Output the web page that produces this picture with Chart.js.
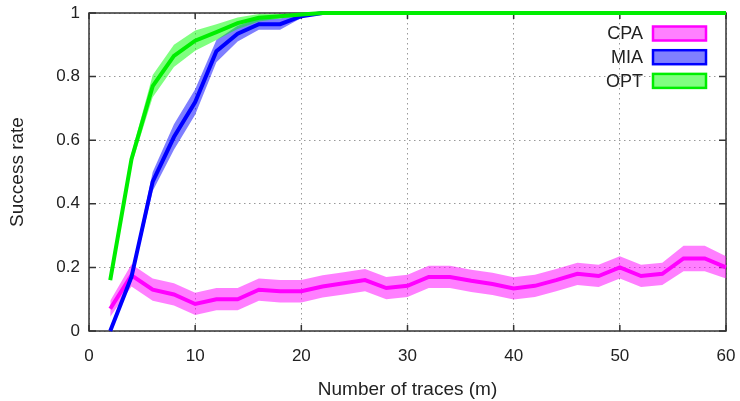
<!DOCTYPE html>
<html>
<head>
<meta charset="utf-8">
<script src="https://cdn.jsdelivr.net/npm/chart.js@4"></script>
<style>
  html, body { margin: 0; padding: 0; background: #fff; }
  #wrap { width: 740px; height: 401px; }
</style>
</head>
<body>
<div id="wrap"><canvas id="c"></canvas></div>
<script>
// number of traces
const traces = [2, 4, 6, 8, 10, 12, 14, 16, 18, 20, 22, 24, 26, 28, 30,
                32, 34, 36, 38, 40, 42, 44, 46, 48, 50, 52, 54, 56, 58, 60];

// success rates
const cpa = [0.07, 0.175, 0.13, 0.115, 0.085, 0.10, 0.10, 0.13, 0.125, 0.125, 0.14, 0.15, 0.16, 0.135, 0.142,
             0.17, 0.17, 0.158, 0.148, 0.134, 0.142, 0.16, 0.18, 0.173, 0.20, 0.173, 0.18, 0.228, 0.228, 0.20];
const mia = [0, 0.17, 0.47, 0.61, 0.72, 0.88, 0.935, 0.965, 0.965, 0.99, 1, 1, 1, 1, 1,
             1, 1, 1, 1, 1, 1, 1, 1, 1, 1, 1, 1, 1, 1, 1];
const opt = [0.16, 0.54, 0.77, 0.865, 0.913, 0.94, 0.968, 0.985, 0.99, 0.995, 1, 1, 1, 1, 1,
             1, 1, 1, 1, 1, 1, 1, 1, 1, 1, 1, 1, 1, 1, 1];

// half width of the shaded band
const cpaSpread = [0.025, 0.035, 0.035, 0.035, 0.035, 0.035, 0.035, 0.035, 0.035, 0.035, 0.035, 0.035, 0.035, 0.035, 0.035,
                   0.035, 0.035, 0.035, 0.035, 0.035, 0.035, 0.035, 0.035, 0.035, 0.035, 0.035, 0.035, 0.04, 0.04, 0.035];
const miaSpread = [0, 0.012, 0.03, 0.04, 0.04, 0.035, 0.025, 0.018, 0.018, 0.006, 0, 0, 0, 0, 0,
                   0, 0, 0, 0, 0, 0, 0, 0, 0, 0, 0, 0, 0, 0, 0];
const optSpread = [0.006, 0.018, 0.035, 0.035, 0.032, 0.025, 0.018, 0.012, 0.007, 0.003, 0, 0, 0, 0, 0,
                   0, 0, 0, 0, 0, 0, 0, 0, 0, 0, 0, 0, 0, 0, 0];

const xTicks = [0, 10, 20, 30, 40, 50, 60];
const yTicks = [0, 0.2, 0.4, 0.6, 0.8, 1];

const FONT = '"Liberation Sans", Arial, sans-serif';
const TEXT = '#222';

function pts(vals, spread, sign) {
  return traces.map((t, i) => ({ x: t, y: vals[i] + sign * (spread ? spread[i] : 0) }));
}

function band(vals, spread, color, order) {
  return [
    { data: pts(vals, spread, 1), borderWidth: 0, borderColor: 'transparent', pointRadius: 0,
      backgroundColor: color, fill: '+1', order: order, clip: 6 },
    { data: pts(vals, spread, -1), borderWidth: 0, borderColor: 'transparent', pointRadius: 0,
      fill: false, order: order, clip: 6 }
  ];
}

function line(label, vals, color, light, order) {
  return { label: label, data: pts(vals, null, 0), borderColor: color, borderWidth: 4,
    pointRadius: 0, fill: false, order: order, clip: 6, legendFill: light, isMain: true };
}

// gnuplot style frame with inward ticks, and the legend
const frame = {
  id: 'frame',
  beforeDatasetsDraw(chart) {
    const { ctx, chartArea: a, scales } = chart;
    ctx.save();
    ctx.strokeStyle = '#333';
    ctx.lineWidth = 1.5;
    ctx.strokeRect(a.left, a.top, a.right - a.left, a.bottom - a.top);
    ctx.beginPath();
    xTicks.forEach(v => {
      const x = scales.x.getPixelForValue(v);
      ctx.moveTo(x, a.bottom); ctx.lineTo(x, a.bottom - 6);
      ctx.moveTo(x, a.top); ctx.lineTo(x, a.top + 6);
    });
    yTicks.forEach(v => {
      const y = scales.y.getPixelForValue(v);
      ctx.moveTo(a.left, y); ctx.lineTo(a.left + 7, y);
      ctx.moveTo(a.right, y); ctx.lineTo(a.right - 7, y);
    });
    ctx.stroke();
    ctx.restore();
  },
  afterDraw(chart) {
    const { ctx } = chart;
    const items = chart.data.datasets.filter(d => d.isMain);
    ctx.save();
    ctx.font = '18px ' + FONT;
    ctx.textAlign = 'right';
    ctx.textBaseline = 'middle';
    items.forEach((d, i) => {
      const y = 33.5 + i * 23.7;
      ctx.fillStyle = TEXT;
      ctx.fillText(d.label, 643, y + 1);
      ctx.fillStyle = d.legendFill;
      ctx.fillRect(653, y - 7, 53, 14);
      ctx.strokeStyle = d.borderColor;
      ctx.lineWidth = 2.5;
      ctx.strokeRect(653, y - 7, 53, 14);
    });
    ctx.restore();
  }
};

new Chart(document.getElementById('c'), {
  type: 'line',
  data: {
    datasets: [
      ...band(cpa, cpaSpread, 'rgba(255, 0, 255, 0.5)', 5),
      ...band(mia, miaSpread, 'rgba(0, 0, 255, 0.5)', 4),
      ...band(opt, optSpread, 'rgba(0, 255, 0, 0.5)', 3),
      line('CPA', cpa, '#ff00ff', '#ff80ff', 2),
      line('MIA', mia, '#0000ff', '#8080ff', 1),
      line('OPT', opt, '#00ee00', '#80ff80', 0)
    ]
  },
  options: {
    responsive: true,
    maintainAspectRatio: false,
    animation: false,
    layout: { padding: { top: 13, right: 14, left: 0, bottom: 0 } },
    plugins: {
      legend: { display: false },
      tooltip: { enabled: false },
      filler: { propagate: false }
    },
    scales: {
      x: {
        type: 'linear', min: 0, max: 60,
        afterBuildTicks: s => { s.ticks = xTicks.map(v => ({ value: v })); },
        afterFit: s => { s.height = 70; s.paddingLeft = 0; s.paddingRight = 0; },
        grid: { color: '#999', lineWidth: 1, drawTicks: false },
        border: { display: false, dash: [1.5, 3.5] },
        ticks: { padding: 15, color: TEXT, font: { family: FONT, size: 17 },
                 callback: v => String(v) },
        title: { display: true, text: 'Number of traces (m)', color: TEXT,
                 font: { family: FONT, size: 19 }, padding: { top: 0, bottom: 0 } }
      },
      y: {
        min: 0, max: 1,
        afterBuildTicks: s => { s.ticks = yTicks.map(v => ({ value: v })); },
        afterFit: s => { s.width = 89; s.paddingTop = 0; s.paddingBottom = 0; },
        grid: { color: '#999', lineWidth: 1, drawTicks: false },
        border: { display: false, dash: [1.5, 3.5] },
        ticks: { padding: 9, color: TEXT, font: { family: FONT, size: 17 },
                 callback: v => String(+v.toFixed(1)) },
        title: { display: true, text: 'Success rate', color: TEXT,
                 font: { family: FONT, size: 19 }, padding: { top: 6, bottom: 0 } }
      }
    }
  },
  plugins: [frame]
});
</script>
</body>
</html>
